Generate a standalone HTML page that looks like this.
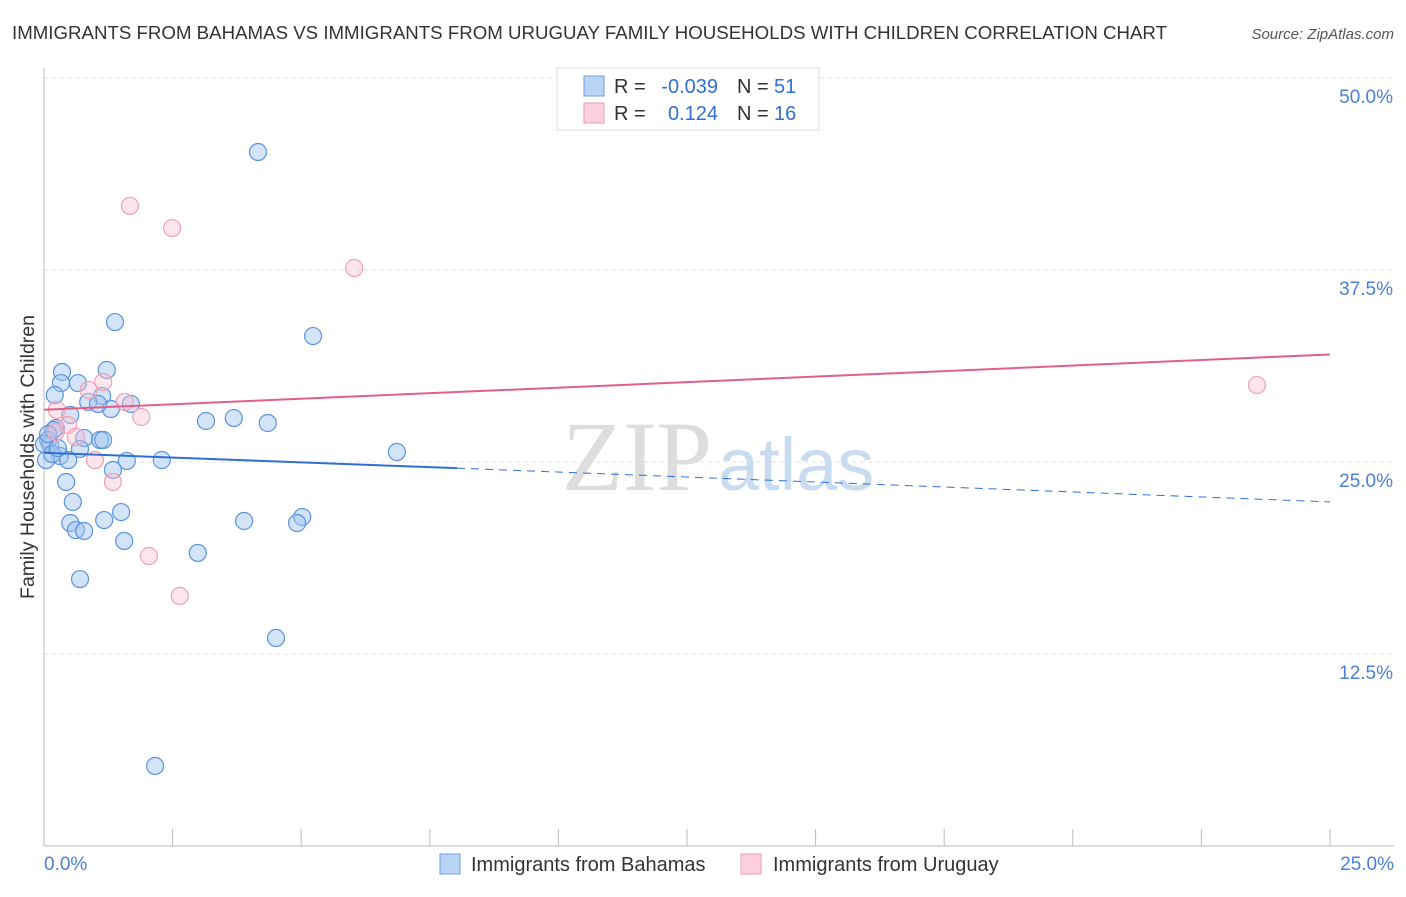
<!DOCTYPE html>
<html><head><meta charset="utf-8"><style>
body{margin:0;background:#fff;font-family:"Liberation Sans",sans-serif}
</style></head><body>
<svg width="1406" height="892" xmlns="http://www.w3.org/2000/svg">
<text x="12" y="39" font-size="18" fill="#333" textLength="1155" lengthAdjust="spacingAndGlyphs">IMMIGRANTS FROM BAHAMAS VS IMMIGRANTS FROM URUGUAY FAMILY HOUSEHOLDS WITH CHILDREN CORRELATION CHART</text>
<text x="1394" y="39" font-size="15" fill="#555" font-style="italic" text-anchor="end">Source: ZipAtlas.com</text>
<g id="grid"></g>
<text x="712" y="490" font-size="100" fill="#ddd" font-family="Liberation Serif" text-anchor="end">ZIP</text>
<text x="718" y="490" font-size="74" fill="#c9dcef">atlas</text>
<text transform="translate(34,457) rotate(-90)" font-size="19.5" fill="#333" text-anchor="middle">Family Households with Children</text>
<g id="marks"></g>
<g>
<rect x="557" y="68" width="262" height="62" fill="#fff" stroke="#ddd"/>
<rect x="584" y="76" width="20" height="20" fill="#b9d4f5" stroke="#6a9fe0"/>
<rect x="584" y="103" width="20" height="20" fill="#fbd0dc" stroke="#ee9ab4"/>
<text x="614" y="93" font-size="20" fill="#333">R =</text>
<text x="718" y="93" font-size="20" fill="#2f6fd6" text-anchor="end">-0.039</text>
<text x="737" y="93" font-size="20" fill="#333">N =</text>
<text x="774" y="93" font-size="20" fill="#2f6fd6">51</text>
<text x="614" y="120" font-size="20" fill="#333">R =</text>
<text x="718" y="120" font-size="20" fill="#2f6fd6" text-anchor="end">0.124</text>
<text x="737" y="120" font-size="20" fill="#333">N =</text>
<text x="774" y="120" font-size="20" fill="#2f6fd6">16</text>
</g>
<g>
<rect x="440" y="854" width="20" height="20" fill="#b9d4f5" stroke="#6a9fe0"/>
<text x="471" y="871" font-size="20" fill="#333">Immigrants from Bahamas</text>
<rect x="741" y="854" width="20" height="20" fill="#fbd0dc" stroke="#ee9ab4"/>
<text x="773" y="871" font-size="20" fill="#333">Immigrants from Uruguay</text>
</g>
</svg>
<script>
const yTicks=[12.5,25,37.5,50];
const xTickLabels=["0.0%","25.0%"];
const bahamasX=[4.16,1.38,5.23,1.22,0.35,0.33,0.66,0.21,1.13,0.86,1.69,1.30,1.05,0.51,3.15,3.69,4.35,0.23,0.19,0.78,1.09,1.15,0.08,0.12,0.70,6.86,0.31,0.47,1.61,2.29,0.04,1.34,0.43,0.56,1.50,0.51,1.17,3.89,5.02,4.92,0.62,0.78,1.56,2.99,0.70,4.51,2.16,0.0,0.08,0.16,0.27];
const bahamasY=[45.18,34.11,33.20,30.99,30.86,30.14,30.14,29.36,29.30,28.91,28.78,28.45,28.78,28.06,27.67,27.86,27.54,27.21,27.08,26.56,26.43,26.43,26.43,26.11,25.85,25.65,25.39,25.13,25.07,25.13,25.13,24.48,23.70,22.40,21.74,21.03,21.22,21.16,21.42,21.03,20.57,20.51,19.86,19.08,17.38,13.54,5.21,26.17,26.82,25.52,25.91];
const uruguayX=[1.67,2.49,6.03,23.58,1.15,0.87,1.57,0.25,1.89,0.47,0.23,0.62,0.99,1.34,2.04,2.64];
const uruguayY=[41.67,40.23,37.63,30.01,30.21,29.69,28.91,28.39,27.93,27.41,26.95,26.63,25.13,23.70,18.88,16.28];
const blueLine=[[0,25.6],[8.03,24.6],[25,22.4]];
const pinkLine=[[0,28.4],[25,32.0]];
const NS="http://www.w3.org/2000/svg";
const X=v=>44+v/25*1286, Y=v=>846-v/50*768;
function mk(t,a,p){const e=document.createElementNS(NS,t);for(const k in a)e.setAttribute(k,a[k]);p.appendChild(e);return e;}
const g=document.getElementById('grid'), m=document.getElementById('marks');
yTicks.forEach(t=>{
 const l=mk('line',{x1:44,x2:1394,y1:Y(t),y2:Y(t),stroke:'#e3e3e3','stroke-dasharray':'4,4'},g);
 
 
 const tx=mk('text',{x:1393,y:Y(t)+25,'font-size':19,fill:'#4a7fd6','text-anchor':'end'},g);
 tx.textContent=t.toFixed(1)+'%';
 
 
});
const ax=mk('line',{x1:44,x2:44,y1:68,y2:846,stroke:'#bbb'},g);


const bx=mk('line',{x1:44,x2:1394,y1:846,y2:846,stroke:'#bbb'},g);


for(let i=0;i<=10;i++){const t=mk('line',{x1:X(i*2.5),x2:X(i*2.5),y1:829,y2:846,stroke:'#bbb'},g);
 
 }
xTickLabels.forEach((s,i)=>{const t=mk('text',{x:i?1394:44,y:870,'font-size':19,fill:'#4a7fd6','text-anchor':i?'end':'start'},g);t.textContent=s;
 
 });
bahamasX.forEach((v,i)=>{const c=mk('circle',{cx:X(v),cy:Y(bahamasY[i]),r:8.5,fill:'rgba(160,196,240,0.45)',stroke:'#5b93dc','stroke-width':1.2},m);
 
 });
uruguayX.forEach((v,i)=>{const c=mk('circle',{cx:X(v),cy:Y(uruguayY[i]),r:8.5,fill:'rgba(248,190,208,0.4)',stroke:'#eea0b8','stroke-width':1.2},m);
 
 });
const b1=mk('line',{x1:X(blueLine[0][0]),y1:Y(blueLine[0][1]),x2:X(blueLine[1][0]),y2:Y(blueLine[1][1]),stroke:'#2f6fd6','stroke-width':2},m);


const b2=mk('line',{x1:X(blueLine[1][0]),y1:Y(blueLine[1][1]),x2:X(blueLine[2][0]),y2:Y(blueLine[2][1]),stroke:'#2f6fd6','stroke-width':1,'stroke-dasharray':'8,6'},m);


const p1=mk('line',{x1:X(pinkLine[0][0]),y1:Y(pinkLine[0][1]),x2:X(pinkLine[1][0]),y2:Y(pinkLine[1][1]),stroke:'#e0608a','stroke-width':2},m);


</script>
</body></html>
